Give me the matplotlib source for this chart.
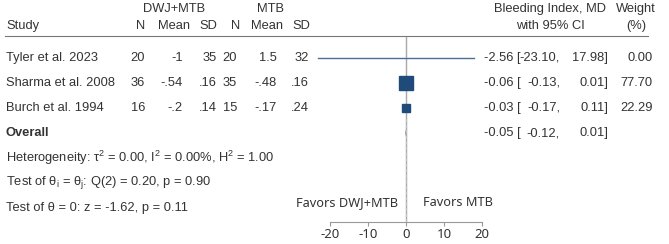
import matplotlib
matplotlib.use('Agg')
import matplotlib.pyplot as plt
import matplotlib.transforms as mtransforms
import numpy as np

plt.rcParams['font.family'] = ['Liberation Sans', 'DejaVu Sans']
plt.rcParams['mathtext.fontset'] = 'custom'
plt.rcParams['mathtext.rm'] = 'Liberation Sans'
plt.rcParams['mathtext.it'] = 'Liberation Sans'
plt.rcParams['mathtext.default'] = 'regular'
plt.rcParams['axes.unicode_minus'] = False

# data
studies = ['Tyler et al. 2023', 'Sharma et al. 2008', 'Burch et al. 1994']
n_trt = ['20', '36', '16']
mean_trt = ['-1', '-.54', '-.2']
sd_trt = ['35', '.16', '.14']
n_ctl = ['20', '35', '15']
mean_ctl = ['1.5', '-.48', '-.17']
sd_ctl = ['32', '.16', '.24']
md = [-2.56, -0.06, -0.03]
ci_lo = [-23.10, -0.13, -0.17]
ci_hi = [17.98, 0.01, 0.11]
weight = [0.00, 77.70, 22.29]
overall_md, overall_lo, overall_hi = -0.05, -0.12, 0.01
xticks = [-20, -10, 0, 10, 20]

W, H = 669, 244
fig = plt.figure(figsize=(W / 100, H / 100), dpi=100)

# forest panel: x=-20 at 330px, x=20 at 482px; rows 25px apart, header line at 36px
ax = fig.add_axes([330 / W, 22 / H, 152 / W, 186 / H])
ax.set_xlim(-20, 20)
ax.set_ylim(6.56, -0.88)

txt = '#333333'
navy = '#1f4a7a'
FS = 9.3
ax.axvline(0, color='#a8a8a8', lw=1, zorder=1)
ax.axvline(overall_md, color='#c0c0c0', lw=0.8, ls=(0, (3, 2)), ymax=1 - 3.3 / 7.44, zorder=1)

rows = np.arange(len(studies))
for i in rows:
    ax.plot([ci_lo[i], ci_hi[i]], [i, i], color='#4a6f94', lw=1, clip_on=False, zorder=2)
    if weight[i] > 0:
        ax.plot(md[i], i, marker='s', ms=1.15 * np.sqrt(weight[i]), color=navy,
                mec=navy, clip_on=False, zorder=3)

# overall diamond (tiny at this scale)
ax.fill([overall_lo, overall_md, overall_hi, overall_md], [3, 2.85, 3, 3.15],
        color=navy, lw=0, zorder=3)

for s in ['top', 'right', 'left']:
    ax.spines[s].set_visible(False)
ax.spines['bottom'].set_color('#999999')
ax.spines['bottom'].set_linewidth(0.8)
ax.set_yticks([])
ax.set_xticks(xticks)
ax.tick_params(axis='x', length=3, width=0.8, color='#999999', labelsize=9.5,
               labelcolor=txt, pad=1)
for lab in ax.get_xticklabels():
    lab.set_family('Noto Sans')

ax.text(-2.1, 5.8, 'Favors DWJ+MTB', ha='right', va='center', fontsize=9.2,
        color=txt, family='Noto Sans')
ax.text(4.5, 5.8, 'Favors MTB', ha='left', va='center', fontsize=9.2,
        color=txt, family='Noto Sans')

tr = mtransforms.blended_transform_factory(fig.transFigure, ax.transData)


def put(xpx, y, s, ha='right', **kw):
    ax.text(xpx / W, y, s, ha=ha, va='center', fontsize=FS, color=txt,
            transform=tr, clip_on=False, **kw)


# header
put(174, -1.96, 'DWJ+MTB', ha='center')
put(271, -1.96, 'MTB', ha='center')
put(6, -1.28, 'Study', ha='left')
for xpx, s in [(145, 'N'), (190, 'Mean'), (217, 'SD'), (240, 'N'), (283, 'Mean'), (310, 'SD')]:
    put(xpx, -1.28, s)
put(550, -1.96, 'Bleeding Index, MD', ha='center')
put(550, -1.28, 'with 95% CI', ha='center')
put(636, -1.96, 'Weight', ha='center')
put(636, -1.28, '(%)', ha='center')
ax.plot([5 / W, 648 / W], [-0.88, -0.88], color='#777777', lw=0.8,
        transform=tr, clip_on=False)

# study rows
for i in rows:
    put(6, i, studies[i], ha='left')
    put(145, i, n_trt[i])
    put(183, i, mean_trt[i])
    put(217, i, sd_trt[i])
    put(237, i, n_ctl[i])
    put(277, i, mean_ctl[i])
    put(309, i, sd_ctl[i])
    put(521, i, f'{md[i]:.2f} [')
    put(560, i, f'{ci_lo[i]:.2f},')
    put(608, i, f'{ci_hi[i]:.2f}]')
    put(653, i, f'{weight[i]:.2f}')

# overall and statistics
put(6, 3, 'Overall', ha='left', fontweight='bold')
put(521, 3, f'{overall_md:.2f} [')
put(560, 3, f'{overall_lo:.2f},')
put(608, 3, f'{overall_hi:.2f}]')
put(6, 4, r'Heterogeneity: τ$^2$ = 0.00, I$^2$ = 0.00%, H$^2$ = 1.00', ha='left')
put(6, 5, r'Test of θ$_i$ = θ$_j$: Q(2) = 0.20, p = 0.90', ha='left')
put(6, 6, 'Test of θ = 0: z = -1.62, p = 0.11', ha='left')

fig.savefig('out.png', dpi=100)
